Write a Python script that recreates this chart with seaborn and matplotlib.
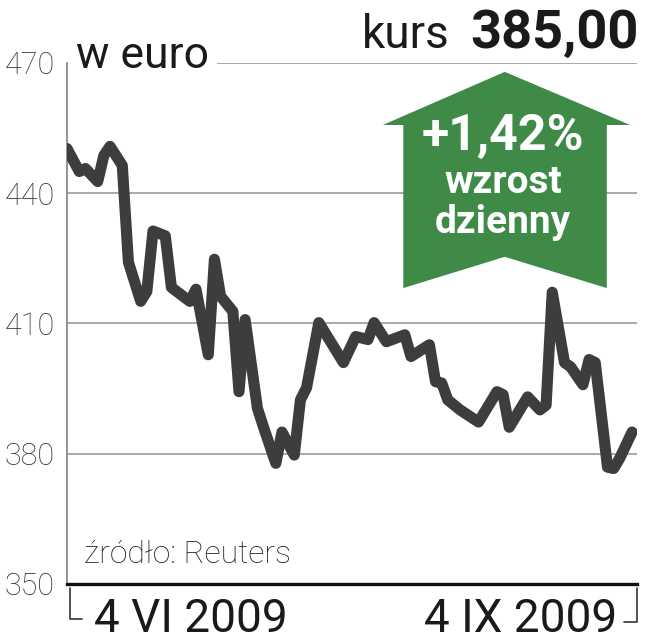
import matplotlib
matplotlib.use('Agg')
import matplotlib.pyplot as plt
from matplotlib.patches import Polygon
from matplotlib.lines import Line2D
import pandas as pd
import seaborn as sns

# kurs w euro, 4 VI - 4 IX 2009
dates = ['2009-06-04', '2009-06-06', '2009-06-07', '2009-06-09', '2009-06-10',
         '2009-06-11', '2009-06-13', '2009-06-14', '2009-06-16', '2009-06-17',
         '2009-06-18', '2009-06-20', '2009-06-21', '2009-06-24', '2009-06-25',
         '2009-06-27', '2009-06-28', '2009-06-29', '2009-07-01', '2009-07-02',
         '2009-07-03', '2009-07-05', '2009-07-06', '2009-07-08', '2009-07-09',
         '2009-07-11', '2009-07-12', '2009-07-13', '2009-07-15', '2009-07-17',
         '2009-07-19', '2009-07-21', '2009-07-23', '2009-07-24', '2009-07-26',
         '2009-07-29', '2009-07-30', '2009-08-02', '2009-08-03', '2009-08-04',
         '2009-08-05', '2009-08-07', '2009-08-10', '2009-08-13', '2009-08-14',
         '2009-08-15', '2009-08-18', '2009-08-20', '2009-08-21', '2009-08-22',
         '2009-08-24', '2009-08-25', '2009-08-27', '2009-08-28', '2009-08-29',
         '2009-08-31', '2009-09-01', '2009-09-02', '2009-09-04']
prices = [450.3, 445.0, 445.7, 442.7, 448.7, 450.8, 446.4, 424.1, 415.1, 417.4,
          431.3, 430.2, 418.3, 415.1, 417.9, 402.8, 424.8, 416.3, 412.8, 394.3,
          410.9, 390.5, 386.1, 377.8, 385.0, 379.7, 392.4, 395.2, 410.2, 405.6,
          401.0, 407.0, 406.3, 410.2, 405.8, 407.4, 402.4, 405.1, 396.6, 396.3,
          392.4, 390.1, 387.3, 394.3, 393.6, 386.1, 393.1, 390.1, 391.2, 417.2,
          401.0, 400.0, 395.9, 401.7, 401.0, 376.9, 376.6, 379.0, 385.0]
y_ticks = [350, 380, 410, 440, 470]

df = pd.DataFrame({'data': pd.to_datetime(dates), 'kurs': prices})

sns.set_style('white')
plt.rcParams['font.family'] = ['Roboto', 'DejaVu Sans']

fig = plt.figure(figsize=(6.48, 6.4), dpi=100)
ax = fig.add_axes([67 / 648, 56 / 640, 570 / 648, 521 / 640])

sns.lineplot(data=df, x='data', y='kurs', ax=ax, color='#3d3d3d',
             linewidth=8, solid_joinstyle='round', solid_capstyle='round',
             zorder=3)

ax.set_ylim(350, 470)
ax.set_xlim(df['data'].iloc[0], df['data'].iloc[-1] + pd.Timedelta(days=0.8))
ax.set_yticks(y_ticks)
ax.set_yticklabels([str(t) for t in y_ticks], fontsize=22, fontweight='light',
                   color='#333333')
ax.tick_params(axis='y', length=0, pad=9)
ax.set_xticks([])
ax.set_xlabel('')
ax.set_ylabel('')
ax.grid(axis='y', color='#9a9a9a', linewidth=1.2)
ax.set_axisbelow(True)

for s in ['top', 'right']:
    ax.spines[s].set_visible(False)
ax.spines['left'].set_color('#808080')
ax.spines['left'].set_linewidth(1.2)
ax.spines['bottom'].set_color('#111111')
ax.spines['bottom'].set_linewidth(2.4)

# zielona strzałka ze zmianą dzienną
arrow = [(0.768, 0.983), (0.988, 0.881), (0.947, 0.881), (0.947, 0.568),
         (0.768, 0.628), (0.590, 0.568), (0.590, 0.881), (0.554, 0.881)]
ax.add_patch(Polygon(arrow, closed=True, transform=ax.transAxes,
                     facecolor='#3f8a47', edgecolor='none', zorder=4))
ax.text(0.765, 0.833, '+1,42%', transform=ax.transAxes, ha='center',
        va='baseline', fontsize=36, fontweight='bold', color='white', zorder=5)
ax.text(0.765, 0.750, 'wzrost', transform=ax.transAxes, ha='center',
        va='baseline', fontsize=28, fontweight='bold', color='white', zorder=5)
ax.text(0.765, 0.674, 'dzienny', transform=ax.transAxes, ha='center',
        va='baseline', fontsize=28, fontweight='bold', color='white', zorder=5)

# napisy
fig.text(76 / 648, 1 - 68 / 640, 'w euro', ha='left', va='baseline',
         fontsize=32, color='#1a1a1a',
         bbox=dict(facecolor='white', edgecolor='none', pad=6))
fig.text(639 / 648, 1 - 48 / 640, '385,00', ha='right', va='baseline',
         fontsize=39, fontweight='bold', color='#1a1a1a')
fig.text(450 / 648, 1 - 48 / 640, 'kurs', ha='right', va='baseline',
         fontsize=33, color='#1a1a1a')
fig.text(84 / 648, 1 - 563 / 640, 'źródło: Reuters', ha='left',
         va='baseline', fontsize=23, fontweight='light', color='#222222')
fig.text(94 / 648, 1 - 632 / 640, '4 VI 2009', ha='left', va='baseline',
         fontsize=33, color='#1a1a1a')
fig.text(617 / 648, 1 - 632 / 640, '4 IX 2009', ha='right', va='baseline',
         fontsize=33, color='#1a1a1a')

# nawiasy zakresu dat
fig.add_artist(Line2D([70 / 648, 70 / 648, 82 / 648],
                      [1 - 588 / 640, 1 - 619 / 640, 1 - 619 / 640],
                      color='#333333', linewidth=1.2))
fig.add_artist(Line2D([624 / 648, 637 / 648, 637 / 648],
                      [1 - 622 / 640, 1 - 622 / 640, 1 - 588 / 640],
                      color='#333333', linewidth=1.2))

plt.savefig('out.png', dpi=100)
plt.close()
